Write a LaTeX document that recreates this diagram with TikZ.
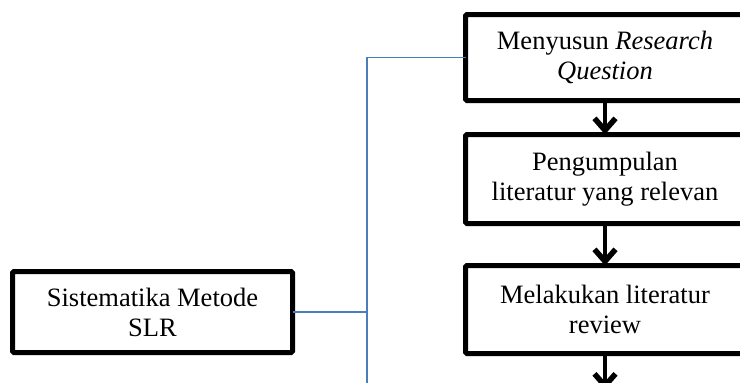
\documentclass[tikz,border=0pt]{standalone}
\usepackage{fontspec}
\setmainfont{Liberation Serif}
\usetikzlibrary{arrows.meta}
\definecolor{connblue}{RGB}{74,126,187}
\begin{document}
\begin{tikzpicture}[x=1pt,y=-1pt,
  box/.style={draw=black,line width=5pt,fill=white,rounded corners=1.5pt,inner sep=0pt,outer sep=0pt,align=center,
    font=\fontsize{26.5}{30}\selectfont},
  conn/.style={draw=connblue,line width=1.6pt},
  flow/.style={draw=black,line width=4.5pt,-{Straight Barb[length=12pt,width=21pt,line width=5.5pt]}}]
\useasboundingbox (0,0) rectangle (740,383);
\clip (0,0) rectangle (740,383);
\node[box,minimum width=280pt,minimum height=81pt] (slr) at (152.5,312) {Sistematika Metode\\SLR};
\node[box,minimum width=279pt,minimum height=86pt] (rq) at (605,57.5) {Menyusun \textit{Research}\\\textit{Question}};
\node[box,minimum width=279pt,minimum height=89pt] (lit) at (605,179) {Pengumpulan\\literatur yang relevan};
\node[box,minimum width=279pt,minimum height=88pt] (rev) at (605,309.5) {Melakukan literatur\\review};
\coordinate (bot) at (367,392);
\coordinate (next) at (605,390);
\draw[conn] (bot) |- (rq.west);
\draw[conn] (slr.east) -- (slr.east -| bot);
\draw[flow] (rq.south) -- (lit.north);
\draw[flow] (lit.south) -- (rev.north);
\draw[flow] (rev.south) -- (next);
\end{tikzpicture}
\end{document}
